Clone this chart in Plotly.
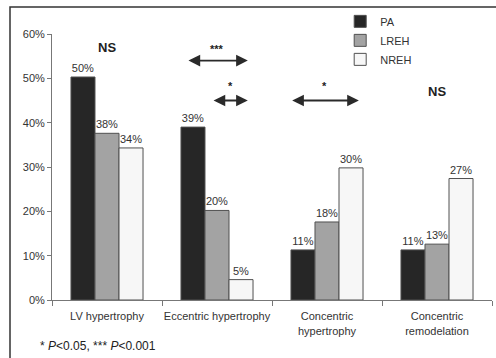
import plotly.graph_objects as go

categories = ["LV hypertrophy", "Eccentric hypertrophy", "Concentric<br>hypertrophy", "Concentric<br>remodelation"]
pa = [50.3, 39.0, 11.3, 11.3]
lreh = [37.6, 20.2, 17.6, 12.6]
nreh = [34.3, 4.6, 29.8, 27.4]
pa_labels = ["50%", "39%", "11%", "11%"]
lreh_labels = ["38%", "20%", "18%", "13%"]
nreh_labels = ["34%", "5%", "30%", "27%"]
ytick_vals = [0, 10, 20, 30, 40, 50, 60]
ytick_text = ["0%", "10%", "20%", "30%", "40%", "50%", "60%"]

FONT = "Liberation Sans, Arial"

fig = go.Figure()
series = [("PA", pa, pa_labels, "#262626"),
          ("LREH", lreh, lreh_labels, "#a3a3a3"),
          ("NREH", nreh, nreh_labels, "#f7f7f7")]
for name, vals, labs, col in series:
    fig.add_trace(go.Bar(
        name=name, x=categories, y=vals, text=labs, textposition="outside",
        textfont=dict(size=11, color="#333333", family=FONT),
        marker=dict(color=col, line=dict(color="#505050", width=1)),
        cliponaxis=False,
    ))

annotations = [
    dict(x=0.0, y=57.0, text="<b>NS</b>", showarrow=False, font=dict(size=13, color="#222", family=FONT)),
    dict(x=3.0, y=47.0, text="<b>NS</b>", showarrow=False, font=dict(size=13, color="#222", family=FONT)),
    dict(x=1.0, y=56.6, text="<b>***</b>", showarrow=False, font=dict(size=11, color="#222")),
    dict(x=1.12, y=48.3, text="<b>*</b>", showarrow=False, font=dict(size=11, color="#222")),
    dict(x=1.98, y=48.3, text="<b>*</b>", showarrow=False, font=dict(size=11, color="#222")),
    dict(x=(38 - 52) / 440, y=-(346 - 300) / 266, xref="paper", yref="paper", xanchor="left", yanchor="middle",
         showarrow=False, text="* <i>P</i>&lt;0.05, *** <i>P</i>&lt;0.001",
         font=dict(size=12, color="#222", family=FONT)),
]
arrows = [(0.727, 1.28, 54.0), (0.955, 1.28, 45.0), (1.67, 2.29, 45.0)]
for x0, x1, yv in arrows:
    annotations.append(dict(x=x1, y=yv, ax=x0, ay=yv, xref="x", yref="y", axref="x", ayref="y",
                            text="", showarrow=True, arrowhead=2, startarrowhead=2, arrowside="end+start",
                            arrowsize=1.3, startarrowsize=1.3, arrowwidth=1.8, arrowcolor="#2a2a2a"))

fig.update_layout(
    width=496, height=358,
    margin=dict(l=52, r=4, t=34, b=58, autoexpand=False),
    paper_bgcolor="white", plot_bgcolor="white",
    barmode="group", bargap=0.345, bargroupgap=0.0,
    font=dict(family=FONT, size=11, color="#333333"),
    showlegend=True,
    legend=dict(x=0.655, y=1.102, xanchor="left", yanchor="top", orientation="v",
                font=dict(size=11, color="#333", family=FONT), itemwidth=30,
                tracegroupgap=0, bgcolor="rgba(0,0,0,0)"),
    annotations=annotations,
    shapes=[dict(type="rect", xref="paper", yref="paper",
                 x0=(10 - 52) / 440, x1=1.2, y0=-0.4, y1=1 + (34 - 7) / 266,
                 line=dict(color="#333333", width=1.5), fillcolor="rgba(0,0,0,0)")],
)
fig.update_xaxes(showline=True, linecolor="#777", linewidth=1, ticks="outside", ticklen=5,
                 tickcolor="#777", tickson="boundaries", showgrid=False, tickangle=0, automargin=False,
                 ticklabelstandoff=6,
                 tickfont=dict(size=11, color="#333", family=FONT))
fig.update_yaxes(range=[0, 60], tickvals=ytick_vals, ticktext=ytick_text, showline=True,
                 linecolor="#777", linewidth=1, ticks="outside", ticklen=4, tickcolor="#777",
                 showgrid=False, zeroline=False, automargin=False,
                 tickfont=dict(size=11, color="#333", family=FONT))

fig.write_html("out.html", config={"displayModeBar": False},
               post_script="document.body.style.margin='0';document.body.style.overflow='hidden';")
